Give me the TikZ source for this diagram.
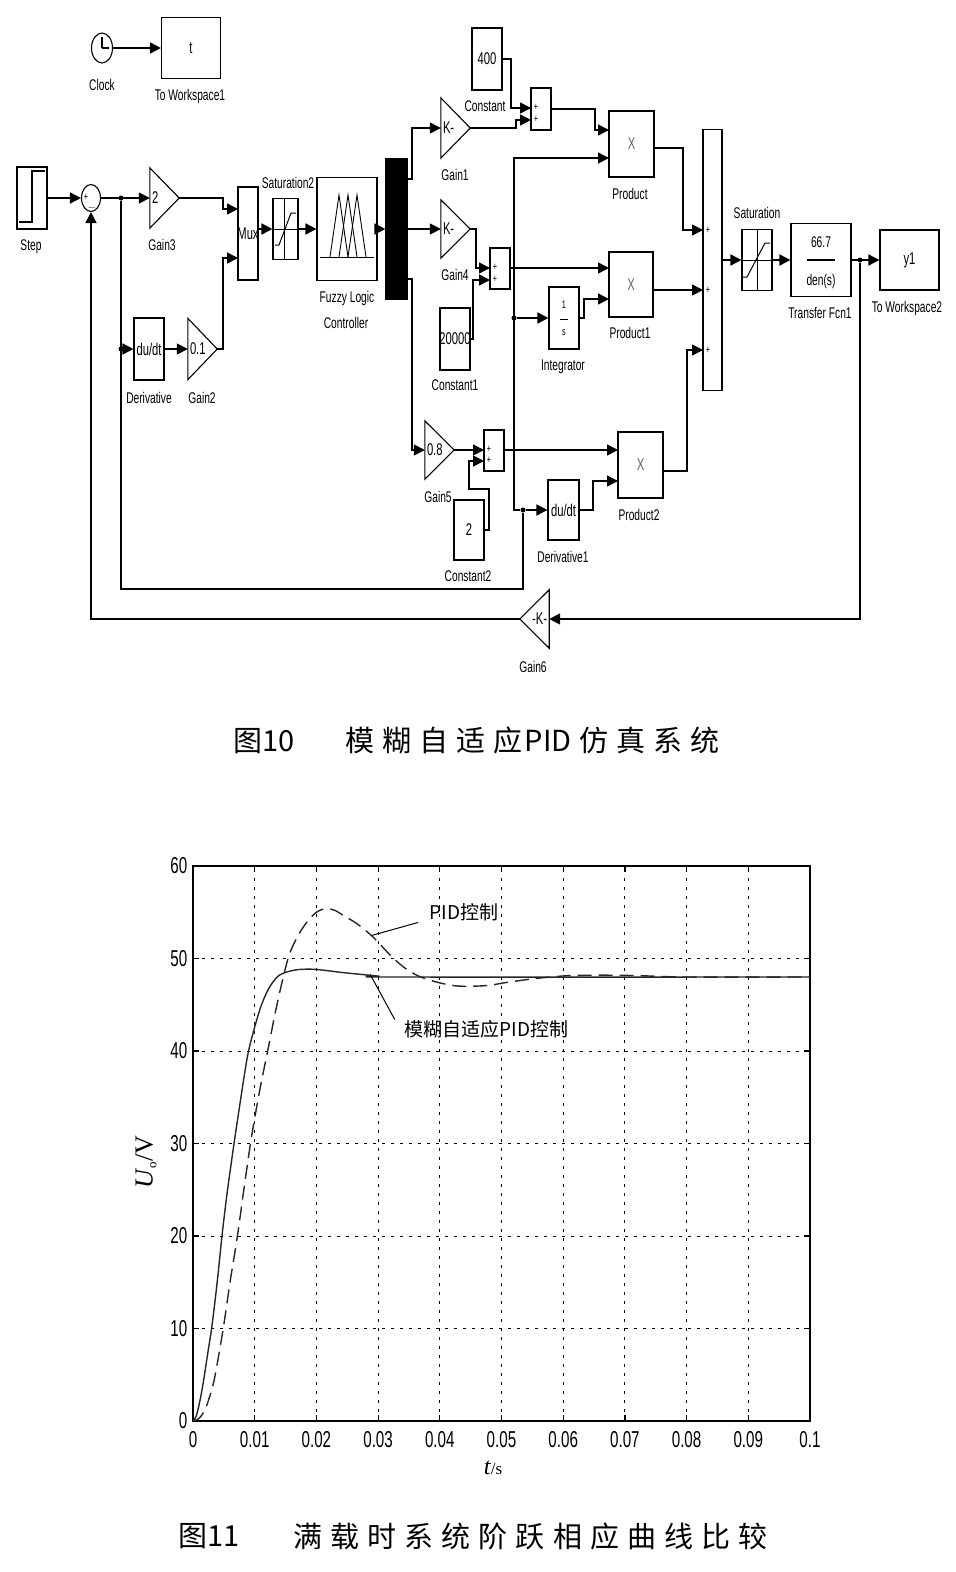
\documentclass[tikz,border=0pt]{standalone}
\usepackage{fontspec}
\setmainfont{Liberation Sans}[FakeStretch=0.66]
\newfontfamily\cjkfont{Noto Sans CJK SC}
\newfontfamily\capfont{Noto Sans CJK SC}[LetterSpace=28]
\newfontfamily\serfont{Liberation Serif}
\usetikzlibrary{arrows.meta,shapes.geometric}

\newcommand\lblfont{\fontsize{15.5}{17}\selectfont}
\newcommand\blkfont{\fontsize{17}{19}\selectfont}
\newcommand\sgnfont{\fontsize{11}{12}\selectfont}

\tikzset{
  blk/.style={draw, line width=1.1pt, inner sep=0pt, font=\blkfont},
  gain/.style={inner sep=0pt, font=\blkfont, text width=25pt, align=left},
  sig/.style={line width=1.6pt, -{Triangle[length=11pt,width=11pt]}},
  wire/.style={line width=1.6pt},
  lbl/.style={font=\lblfont, inner sep=0pt},
  sgn/.style={font=\sgnfont, inner sep=0pt},
  jdot/.style={circle, fill, inner sep=0pt, minimum size=5pt},
  gridl/.style={line width=1pt, dash pattern=on 3pt off 6pt},
  ticklbl/.style={font=\fontsize{23}{25}\selectfont, inner sep=0pt},
  curve/.style={line width=1.4pt, black!85},
  capnum/.style={font={\fontsize{29}{32}\cjkfont}, anchor=west, inner sep=0pt},
  captxt/.style={font={\fontsize{29}{32}\capfont}, anchor=west, inner sep=0pt},
}

\begin{document}
\begin{tikzpicture}[x=1pt, y=-1pt]
\path[use as bounding box, fill=white] (0,0) rectangle (956,1572);

% clock and workspace
\node[blk, ellipse, minimum width=21pt, minimum height=30pt] (clock) at (102,48) {};
\draw[line width=1.1pt] (clock.center) -- ++(0,-11) (clock.center) -- ++(7,0);
\node[lbl] (clock-l) at (102,85) {Clock};
\node[blk, minimum width=59pt, minimum height=61pt] (tows1) at (191,48) {t};
\node[lbl] (tows1-l) at (190,96) {To Workspace1};
\draw[sig] (clock) -- (tows1);

% error and fuzzy part
\node[blk, minimum width=30pt, minimum height=62pt] (step) at (32,198) {};
\draw[line width=1.4pt] (19,222) -- (32,222) -- (32,171) -- (45,171);
\node[lbl] (step-l) at (31,247) {Step};
\node[blk, ellipse, minimum width=19pt, minimum height=27pt] (sum) at (91,198) {};
\node[sgn] (sum-p) at (86,197) {+};
\node[sgn] (sum-m) at (92,208) {$-$};
\node[gain, minimum width=29pt, minimum height=60pt] (gain3) at (164.5,198) {2};
\node[lbl] (gain3-l) at (162,245) {Gain3};
\node[blk, minimum width=30pt, minimum height=62pt] (deriv) at (149,349) {du/dt};
\node[lbl] (deriv-l) at (149,398) {Derivative};
\node[gain, minimum width=29pt, minimum height=61pt] (gain2) at (202.5,349) {0.1};
\node[lbl] (gain2-l) at (202,398) {Gain2};
\node[blk, minimum width=20pt, minimum height=93pt] (mux) at (248,233.5) {\makebox[0pt]{Mux}};
\coordinate (mux-i1) at (238,209);
\coordinate (mux-i2) at (238,258);
\coordinate (mux-o) at (258,229);
\node[blk, minimum width=25pt, minimum height=61pt] (sattwo) at (285.5,229) {};
\draw[line width=1pt] (284,198.5) -- (284,259.5) (sattwo.west) -- (sattwo.east);
\draw[line width=1pt] (275,245) -- (279,245) -- (291,213) -- (296,213);
\node[lbl] (sattwo-l) at (288,183) {Saturation2};
\node[blk, minimum width=60pt, minimum height=103pt] (flc) at (347,229) {};
\draw[line width=0.9pt] (320,257) -- (374,257);
\foreach \p in {339,348,357}
  \draw[line width=0.9pt] (\p-9,257) -- (\p,195) -- (\p+9,257);
\node[lbl] (flc-l1) at (347,298) {Fuzzy Logic};
\node[lbl] (flc-l2) at (346,323) {Controller};
\node[blk, fill=black, minimum width=21pt, minimum height=140pt] (demux) at (396.5,229) {};
\coordinate (dm-o1) at (407,179);
\coordinate (dm-o3) at (407,279);

% PID parameter branches
\node[gain, minimum width=29pt, minimum height=60pt] (gain1) at (455.5,128) {K-};
\node[lbl] (gain1-l) at (455,175) {Gain1};
\node[gain, minimum width=29pt, minimum height=58pt] (gain4) at (455.5,229) {K-};
\node[lbl] (gain4-l) at (455,275) {Gain4};
\node[gain, minimum width=29pt, minimum height=58pt] (gain5) at (439.5,450) {0.8};
\node[lbl] (gain5-l) at (438,497) {Gain5};
\node[blk, minimum width=30pt, minimum height=62pt] (const) at (487,59) {400};
\node[lbl] (const-l) at (485,106) {Constant};
\node[blk, minimum width=30pt, minimum height=62pt] (constone) at (455,339) {\makebox[0pt]{20000}};
\node[lbl] (constone-l) at (455,385) {Constant1};
\node[blk, minimum width=30pt, minimum height=60pt] (consttwo) at (469,530) {2};
\node[lbl] (consttwo-l) at (468,576) {Constant2};

\node[blk, minimum width=20pt, minimum height=42pt] (sumone) at (541,109) {};
\node[blk, minimum width=20pt, minimum height=41pt] (sumtwo) at (500,268.5) {};
\node[blk, minimum width=20pt, minimum height=41pt] (sumthree) at (494,450.5) {};
\coordinate (s1-i1) at (531,108);  \coordinate (s1-i2) at (531,120);  \coordinate (s1-o) at (551,109);
\coordinate (s2-i1) at (490,268);  \coordinate (s2-i2) at (490,280);  \coordinate (s2-o) at (510,268);
\coordinate (s3-i1) at (484,450);  \coordinate (s3-i2) at (484,461);  \coordinate (s3-o) at (504,450);
\foreach \s/\x/\ya/\yb in {s1/536/107/119, s2/495/267/279, s3/489/449/460} {
  \node[sgn] (\s-pa) at (\x,\ya) {+};
  \node[sgn] (\s-pb) at (\x,\yb) {+};
}

\node[blk, minimum width=45pt, minimum height=66pt, text=black!60] (prod) at (631.5,144) {X};
\node[lbl] (prod-l) at (630,194) {Product};
\node[blk, minimum width=44pt, minimum height=65pt, text=black!60] (prodone) at (631,284.5) {X};
\node[lbl] (prodone-l) at (630,333) {Product1};
\node[blk, minimum width=45pt, minimum height=66pt, text=black!60] (prodtwo) at (640.5,465) {X};
\node[lbl] (prodtwo-l) at (639,515) {Product2};
\coordinate (p-i1) at (609,130);  \coordinate (p-i2) at (609,158);  \coordinate (p-o) at (654,148);
\coordinate (p1-i1) at (609,268); \coordinate (p1-i2) at (609,299); \coordinate (p1-o) at (653,290);
\coordinate (p2-i1) at (618,450); \coordinate (p2-i2) at (618,481); \coordinate (p2-o) at (663,471);

\node[blk, minimum width=30pt, minimum height=62pt] (integ) at (564,318) {};
\node[sgn] (integ-n) at (564,305) {1};
\draw[line width=1pt] (560,319) -- (568,319);
\node[sgn] (integ-d) at (564,333) {s};
\node[lbl] (integ-l) at (563,367) {Integrator};
\node[blk, minimum width=31pt, minimum height=60pt] (derivone) at (563.5,510) {du/dt};
\node[lbl] (derivone-l) at (563,557) {Derivative1};

% output part
\node[blk, minimum width=19pt, minimum height=261pt] (bigsum) at (712.5,260) {};
\coordinate (b-i1) at (703,230); \coordinate (b-i2) at (703,290); \coordinate (b-i3) at (703,350);
\foreach \y in {230,290,350}
  \node[sgn] (bs-\y) at (708,\y) {+};
\node[blk, minimum width=30pt, minimum height=61pt] (sat) at (757,260) {};
\draw[line width=1pt] (sat.north) -- (sat.south) (sat.west) -- (sat.east);
\draw[line width=1pt] (743,277) -- (747,277) -- (765,243) -- (770,243);
\node[lbl] (sat-l) at (757,213) {Saturation};
\node[blk, minimum width=60pt, minimum height=73pt] (tf) at (821,260) {};
\node[lbl] (tf-num) at (821,242) {66.7};
\draw[line width=1.2pt] (807,260) -- (835,260);
\node[lbl] (tf-den) at (821,281) {den(s)};
\node[lbl] (tf-l) at (820,313) {Transfer Fcn1};
\node[blk, minimum width=59pt, minimum height=60pt] (tows2) at (909.5,260) {y1};
\node[lbl] (tows2-l) at (907,308) {To Workspace2};
\node[gain, minimum width=29pt, minimum height=58pt, align=right] (gain6) at (534.5,619) {-K-};
\node[lbl] (gain6-l) at (533,667) {Gain6};

\foreach \g in {gain1,gain2,gain3,gain4,gain5}
  \draw[line width=1.1pt] (\g.north west) -- (\g.east) -- (\g.south west) -- cycle;
\draw[line width=1.1pt] (gain6.north east) -- (gain6.west) -- (gain6.south east) -- cycle;

% signals
\draw[sig] (step.east) -- (sum.west);
\draw[sig] (sum.east) -- (gain3.west);
\node[jdot] (ej) at (121,198) {};
\node[jdot] (ej2) at (121,349) {};
\node[jdot] (dj) at (523,510) {};
\node[jdot] (ij) at (514,318) {};
\draw[wire] (ej) -- (121,589) -| (dj);
\draw[sig] (ej2) -- (deriv.west);
\draw[sig] (deriv) -- (gain2);
\draw[sig] (gain3.east) -- (223,198) |- (mux-i1);
\draw[sig] (gain2.east) -- (223,349) |- (mux-i2);
\draw[sig] (mux-o) -- (sattwo.west);
\draw[sig] (sattwo) -- (flc);
\draw[sig] (flc) -- (demux);
\draw[sig] (dm-o1) -- (412,179) |- (gain1.west);
\draw[sig] (demux.east) -- (gain4.west);
\draw[sig] (dm-o3) -- (412,279) |- (gain5.west);
\draw[sig] (const.east) -- (511,59) |- (s1-i1);
\draw[sig] (gain1.east) -- (516,128) |- (s1-i2);
\draw[sig] (s1-o) -- (595,109) |- (p-i1);
\draw[sig] (dj) -- (514,510) |- (p-i2);
\draw[sig] (ij) -- (integ.west);
\draw[sig] (dj) -- (derivone.west);
\draw[sig] (gain4.east) -- (476,229) |- (s2-i1);
\draw[sig] (constone.east) -- (473,339) |- (s2-i2);
\draw[sig] (s2-o) -- (p1-i1);
\draw[sig] (integ.east) -- (584,318) |- (p1-i2);
\draw[sig] (gain5.east) -- (s3-i1);
\draw[sig] (consttwo.east) -- (489,530) -- (489,489) -- (469,489) |- (s3-i2);
\draw[sig] (s3-o) -- (p2-i1);
\draw[sig] (derivone.east) -- (593,510) |- (p2-i2);
\draw[sig] (p-o) -- (683,148) |- (b-i1);
\draw[sig] (p1-o) -- (b-i2);
\draw[sig] (p2-o) -- (687,471) |- (b-i3);
\draw[sig] (bigsum.east) -- (sat.west);
\draw[sig] (sat) -- (tf);
\draw[sig] (tf) -- (tows2);
\node[jdot] (yj) at (860,260) {};
\draw[sig] (yj) -- (860,619) -- (gain6.east);
\draw[sig] (gain6.west) -| (sum.south);

% caption 1
\node[capnum] (cap1-n) at (233,741) {图10};
\node[captxt] (cap1-t) at (345,741) {模糊自适应\hspace{2pt}{\cjkfont PID}\hspace{8pt}仿真系统};

% step response plot
\begin{scope}[shift={(193,1421)}, x=6.17pt, y=9.25pt]
  \foreach \t in {10,20,...,90}
    \draw[gridl] (\t,0) -- (\t,60);
  \foreach \v in {10,20,...,50}
    \draw[gridl] (0,\v) -- (100,\v);
  \draw[line width=1.3pt] (0,0) rectangle (100,60);
  \foreach \t in {0,10,...,100}
    \draw[line width=1.2pt] (\t,0) -- (\t,0.7) (\t,60) -- (\t,59.3);
  \foreach \v in {0,10,...,60}
    \draw[line width=1.2pt] (0,\v) -- (1,\v) (100,\v) -- (99,\v);
  \foreach \t/\s in {0/0,10/0.01,20/0.02,30/0.03,40/0.04,50/0.05,60/0.06,70/0.07,80/0.08,90/0.09,100/0.1}
    \node[ticklbl, anchor=north] (xt-\t) at (\t,-1.1) {\s};
  \foreach \v in {0,10,...,60}
    \node[ticklbl, anchor=east] (yt-\v) at (-0.9,\v) {\v};

  % PID (dashed)
  \draw[curve, dash pattern=on 14pt off 7pt] plot[smooth, tension=0.5] coordinates {
    (0,0) (1,0.3) (2,1.3) (3,3.3) (3.6,5) (4.9,10) (6,15) (7.2,20) (8.3,25.3)
    (9.5,30.8) (10.8,35.7) (12.1,40) (13.7,45.3) (15.4,50) (16.8,52.2) (18.3,53.8)
    (20,55) (21.6,55.4) (23,55.2) (24.5,54.6) (26.5,53.8) (28.9,52.5) (30.5,51.4)
    (32.5,50) (34.7,48.8) (36.9,48) (39.8,47.4) (42.5,47.05) (45,47) (48,47.1)
    (50.7,47.4) (55,47.8) (58,48) (61,48.15) (66,48.2) (72,48.15) (80,48) (100,48)};
  % fuzzy adaptive (solid)
  \draw[curve] plot[smooth, tension=0.5] coordinates {
    (0,0) (0.5,0.5) (1,1.8) (1.5,3.5) (2,5.6) (2.5,7.8) (3,9.9) (3.5,12.6) (4,15.5)
    (4.7,20) (5.5,24.5) (6.65,30) (7.5,33.8) (8.3,37.3) (9,40) (10,42.6) (11,44.8)
    (12,46.4) (13,47.5) (14,48.2) (15.5,48.6) (17,48.8) (19,48.85) (21,48.75)
    (24,48.5) (27,48.3) (30,48.1) (33,48) (100,48)};

  \coordinate (pid-a) at (29,52.5);
  \coordinate (pid-b) at (36.5,53.9);
  \coordinate (fz-a) at (28.7,48.3);
  \coordinate (fz-b) at (32.7,43.4);
  \draw[line width=1pt] (pid-a) -- (pid-b);
  \draw[line width=1pt] (fz-a) -- (fz-b);
  \node[font={\fontsize{19}{21}\cjkfont}, anchor=west, inner sep=0pt] (pid-t) at (38.3,55) {PID控制};
  \node[font={\fontsize{19}{21}\cjkfont}, anchor=west, inner sep=0pt] (fz-t) at (34.3,42.3) {模糊自适应PID控制};
\end{scope}

\node[rotate=90, inner sep=0pt] (ylab) at (146,1162)
  {\serfont\fontsize{26}{28}\selectfont\textit{U}\textsubscript{\fontsize{13}{14}\selectfont o}/V};
\node[inner sep=0pt] (xlab) at (493,1468)
  {\serfont\fontsize{24}{26}\selectfont\textit{t}\fontsize{17}{18}\selectfont/s};

% caption 2
\node[capnum] (cap2-n) at (178,1536) {图11};
\node[captxt] (cap2-t) at (293,1536) {满载时系统阶跃相应曲线比较};
\end{tikzpicture}
\end{document}
